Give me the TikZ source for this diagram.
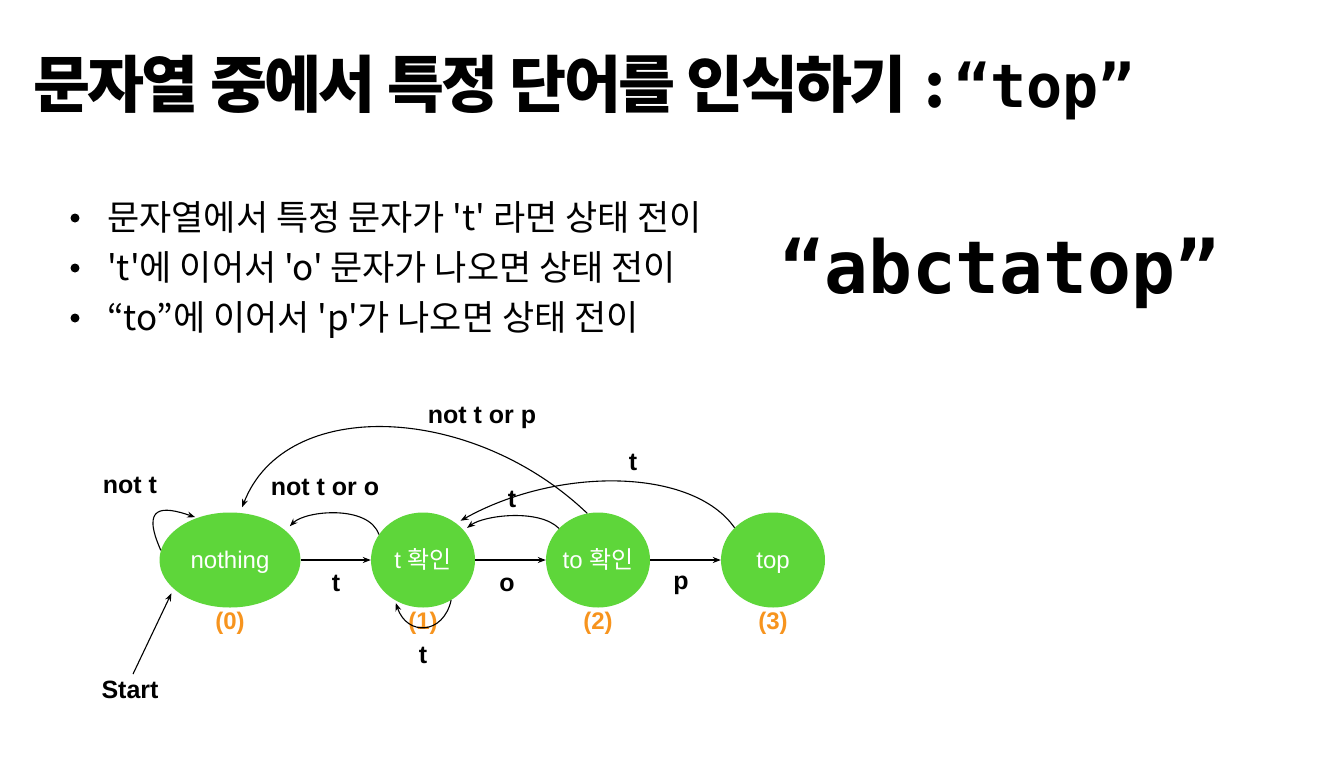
\documentclass[tikz,border=0pt]{standalone}
\usepackage{fontspec}
\newfontfamily\kr{Noto Sans CJK KR}
\newfontfamily\krtitle{Noto Sans CJK KR}[LetterSpace=-4.5]
\newfontfamily\lat{Liberation Sans}
\newfontfamily\mono{DejaVu Sans Mono}
\usetikzlibrary{shapes.geometric,arrows.meta}

\definecolor{stategreen}{RGB}{94,214,58}
\definecolor{numorange}{RGB}{247,148,30}

\begin{document}
\begin{tikzpicture}[x=1pt,y=-1pt,
  state/.style={ellipse, fill=stategreen, draw=none, inner sep=0pt,
    minimum width=104pt, minimum height=95pt, text=white,
    text height=17pt, text depth=0pt,
    font=\lat\fontsize{24}{24}\selectfont},
  num/.style={text=numorange, inner sep=0pt, anchor=base,
    font=\lat\bfseries\fontsize{24}{24}\selectfont},
  lbl/.style={inner sep=0pt, anchor=base,
    font=\lat\bfseries\fontsize{25}{25}\selectfont},
  bullettext/.style={anchor=base west, inner sep=0pt,
    font=\kr\fontsize{35}{35}\selectfont},
  dot/.style={circle, fill=black, inner sep=0pt, minimum size=9pt},
  edge/.style={-{Stealth[length=8pt,width=6pt]}, line width=1.1pt, black},
]
\useasboundingbox (0,0) rectangle (1324,766);
\fill[white] (0,0) rectangle (1324,766);

% heading
\node[anchor=base west, inner sep=0pt, font=\krtitle\bfseries\fontsize{62}{62}\selectfont]
  (titlekr) at (33,107) {문자열 중에서 특정 단어를 인식하기};
\node[anchor=base west, inner sep=0pt, font=\kr\bfseries\fontsize{60}{60}\selectfont]
  (titlecolon) at (924,107) {:};
\node[anchor=base west, inner sep=0pt, font=\mono\bfseries\fontsize{60}{60}\selectfont]
  (titleword) at (954,107) {“top”};

% bullet list
\node[dot] (d1) at (75,218) {};
\node[dot] (d2) at (75,268) {};
\node[dot] (d3) at (75,318) {};
\node[bullettext] (b1) at (107,230) {문자열에서 특정 문자가 't' 라면 상태 전이};
\node[bullettext] (b2) at (107,280) {'t'에 이어서 'o' 문자가 나오면 상태 전이};
\node[bullettext] (b3) at (107,330) {“to”에 이어서 'p'가 나오면 상태 전이};

% input string
\node[anchor=base west, inner sep=0pt, font=\mono\bfseries\fontsize{73}{73}\selectfont]
  (input) at (780,293) {“abctatop”};

% states
\node[state, minimum width=141pt] (n0) at (230,560) {nothing};
\node[state] (n1) at (423,560) {t {\kr 확인}};
\node[state] (n2) at (598,560) {to {\kr 확인}};
\node[state] (n3) at (773,560) {top};

\node[num] (k0) at (230,629) {(0)};
\node[num] (k1) at (423,629) {(1)};
\node[num] (k2) at (598,629) {(2)};
\node[num] (k3) at (773,629) {(3)};

% forward transitions
\draw[edge] (n0.east) -- (n1.west);
\draw[edge] (n1.east) -- (n2.west);
\draw[edge] (n2.east) -- (n3.west);
\node[lbl] (l01) at (336,591) {t};
\node[lbl] (l12) at (507,591) {o};
\node[lbl] (l23) at (681,589) {p};

% loops and fall-backs
\draw[edge, shorten >=2pt] (n0.172) .. controls +(-20,-45) and +(-35,-12) .. (n0.128);
\node[lbl] (l00) at (130,493) {not t};

\draw[edge, shorten >=6pt] (n1.150) .. controls +(-10,-30) and +(20,-20) .. (n0.28);
\node[lbl] (l10) at (325,495) {not t or o};

\draw[edge, shorten >=6pt] (n2.103) .. controls +(-115,-110) and +(45,-117) .. (n0.78);
\node[lbl] (l20) at (482,423) {not t or p};

\draw[edge, shorten >=4pt] (n2.141) .. controls +(-20,-20) and +(20,-15) .. (n1.36);
\node[lbl] (l21) at (512,507) {t};

\draw[edge, shorten >=5pt] (n3.140) .. controls +(-42,-60) and +(102,-57) .. (n1.48);
\node[lbl] (l31) at (633,470) {t};

\draw[edge, shorten >=3pt] (n1.-55) .. controls +(-8,35) and +(12,36) .. (n1.-125);
\node[lbl] (l11) at (423,663) {t};

% start marker
\node[lbl] (start) at (130,698) {Start};
\draw[edge, shorten <=7pt, shorten >=5pt] (start.north) -- (n0.207);
\end{tikzpicture}
\end{document}
